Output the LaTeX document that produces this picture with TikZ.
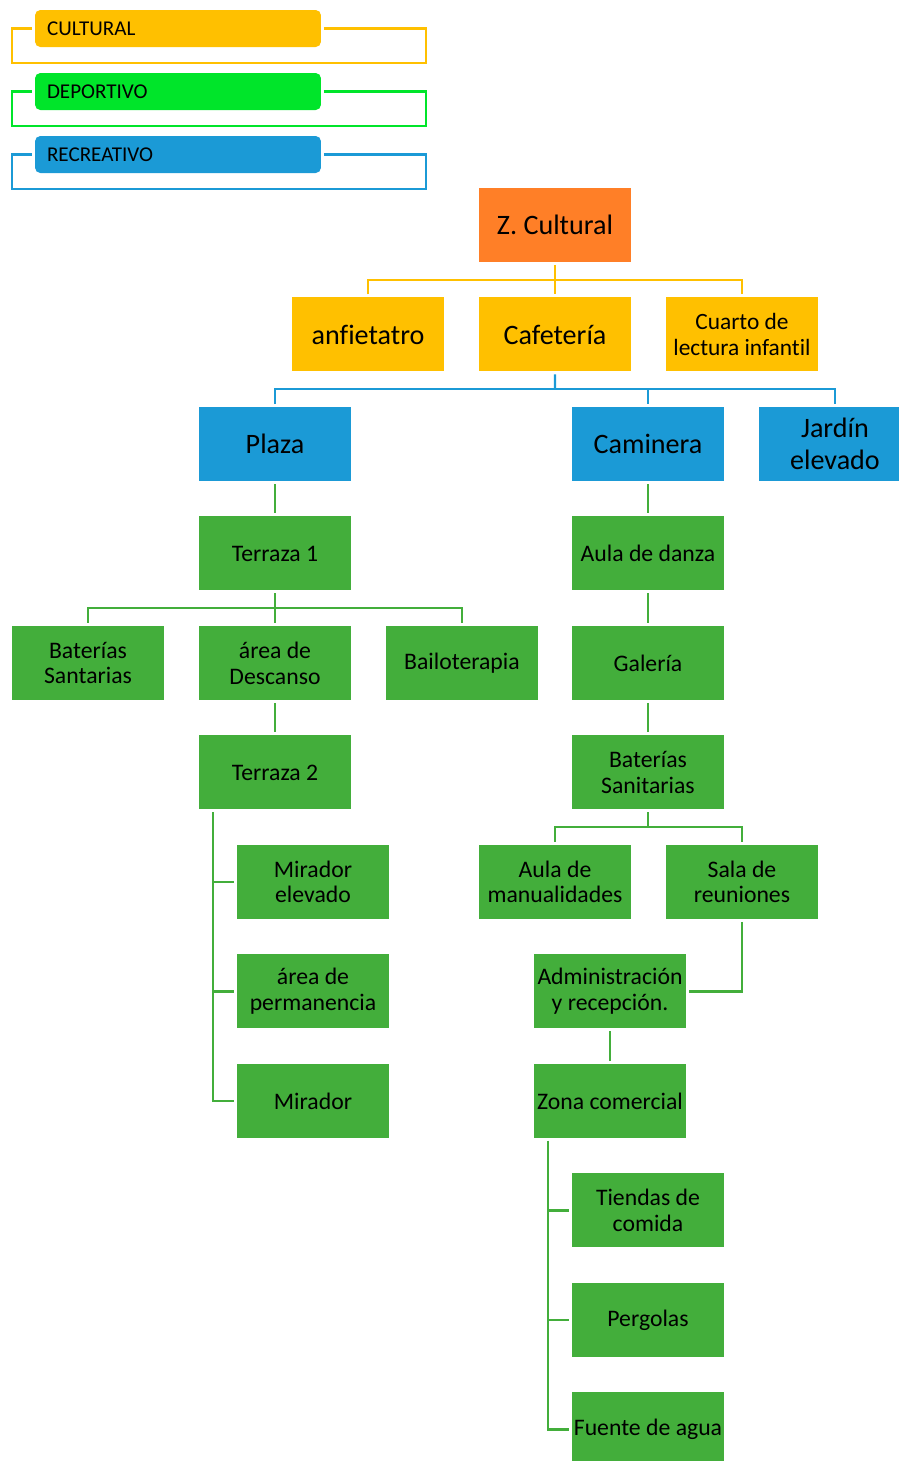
\documentclass[tikz,border=0pt]{standalone}
\usepackage{fontspec}
\setmainfont{Carlito}[Ligatures=CommonOff]
\usepackage{xcolor}
\usepackage{tikz}
\usetikzlibrary{positioning, calc}

\definecolor{zonaorange}{HTML}{FF7F27}
\definecolor{cultyellow}{HTML}{FFC000}
\definecolor{recblue}{HTML}{1B9AD6}
\definecolor{depgreen}{HTML}{00E52A}
\definecolor{areagreen}{HTML}{43AE3B}

\begin{document}
\begin{tikzpicture}[
        x=0.02cm, y=-0.02cm,
        node distance=0.59cm and 0.58cm,
        block/.style = {rectangle, minimum width=3.04cm, align=center, minimum height=1.48cm, inner xsep=0pt, inner ysep=0pt, outer sep=0.06cm},
        zone/.style = {block, fill=zonaorange, font=\fontsize{16}{18}\selectfont},
        cult/.style = {block, fill=cultyellow, font=\fontsize{16}{18}\selectfont},
        recr/.style = {block, fill=recblue, font=\fontsize{16}{18}\selectfont},
        area/.style = {block, fill=areagreen, font=\fontsize{13.5}{14.7}\selectfont},
        legend/.style = {rectangle, rounded corners=3pt, text width=5.24cm, align=left, minimum height=0.74cm, inner xsep=0.24cm, inner ysep=0pt, outer sep=0.06cm, font=\fontsize{12}{14}\selectfont},
        cultlink/.style = {draw=cultyellow, line width=1.4pt},
        reclink/.style = {draw=recblue, line width=1.4pt},
        deplink/.style = {draw=depgreen, line width=1.4pt},
        arealink/.style = {draw=areagreen, line width=1.4pt}
    ]

    \useasboundingbox (0,0) rectangle (899,1461);

    % --- LEYENDA ---
    \node[legend, fill=cultyellow] (lgcult) at (178,28.5) {CULTURAL};
    \node[legend, fill=depgreen] (lgdep) at (178,91.5) {DEPORTIVO};
    \node[legend, fill=recblue] (lgrec) at (178,154.5) {RECREATIVO};

    \draw[cultlink] (lgcult.east) -| ([xshift=2.04cm,yshift=-0.69cm]lgcult.east) -| ([xshift=-0.4cm]lgcult.west) -- (lgcult.west);
    \draw[deplink] (lgdep.east) -| ([xshift=2.04cm,yshift=-0.69cm]lgdep.east) -| ([xshift=-0.4cm]lgdep.west) -- (lgdep.west);
    \draw[reclink] (lgrec.east) -| ([xshift=2.04cm,yshift=-0.69cm]lgrec.east) -| ([xshift=-0.4cm]lgrec.west) -- (lgrec.west);

    % --- ZONA CULTURAL ---
    \node[zone] (zc) at (555,225) {Z. Cultural};
    \node[cult, below=of zc] (cafe) {Cafetería};
    \node[cult, left=of cafe] (anfi) {anfietatro};
    \node[cult, right=of cafe, font=\fontsize{13.3}{15.3}\selectfont] (cuarto) {Cuarto de\\lectura infantil};

    % --- ZONA RECREATIVA ---
    \node[recr] (plaza) at (275,444) {Plaza};
    \node[recr] (caminera) at (648,444) {Caminera};
    \node[recr, right=of caminera] (jardin) {Jardín\\elevado};

    % Rama de la plaza
    \node[area, below=of plaza] (terraza1) {Terraza 1};
    \node[area, below=of terraza1] (descanso) {área de\\Descanso};
    \node[area, left=of descanso] (banos1) {Baterías\\Santarias};
    \node[area, right=of descanso] (bailo) {Bailoterapia};
    \node[area, below=of descanso] (terraza2) {Terraza 2};
    \node[area, below=of terraza2, xshift=0.76cm] (miradorel) {Mirador\\elevado};
    \node[area, below=of miradorel] (permanencia) {área de\\permanencia};
    \node[area, below=of permanencia] (mirador) {Mirador};

    % Rama de la caminera
    \node[area, below=of caminera] (danza) {Aula de danza};
    \node[area, below=of danza] (galeria) {Galería};
    \node[area, below=of galeria] (banos2) {Baterías\\Sanitarias};
    \node[area, below=of banos2, xshift=-1.86cm] (manual) {Aula de\\manualidades};
    \node[area, right=of manual] (sala) {Sala de\\reuniones};
    \node[area, below=of manual, xshift=1.1cm] (admin) {Administración\\y recepción.};
    \node[area, below=of admin] (zona) {Zona comercial};
    \node[area, below=of zona, xshift=0.76cm] (tiendas) {Tiendas de\\comida};
    \node[area, below=of tiendas] (pergolas) {Pergolas};
    \node[area, below=of pergolas] (fuente) {Fuente de agua};

    % --- CONEXIONES ---
    \coordinate (busc) at ($(zc.south)!0.5!(cafe.north)$);
    \draw[cultlink] (zc) -- (cafe);
    \draw[cultlink] (anfi.north) |- (busc) -| (cuarto.north);

    \coordinate (busr) at ($(cafe.south)!0.5!(cafe.south |- caminera.north)$);
    \draw[reclink] (cafe.south) -- (busr);
    \draw[reclink] (plaza.north) |- (busr) -| (jardin.north);
    \draw[reclink] (busr) -| (caminera.north);

    \draw[arealink] (plaza) -- (terraza1);
    \coordinate (bust) at ($(terraza1.south)!0.5!(descanso.north)$);
    \draw[arealink] (terraza1) -- (descanso);
    \draw[arealink] (banos1.north) |- (bust) -| (bailo.north);
    \draw[arealink] (descanso) -- (terraza2);
    \coordinate (spine1) at ([xshift=0.34cm]terraza2.south west);
    \draw[arealink] (spine1) |- (mirador.west);
    \draw[arealink] (spine1) |- (miradorel.west);
    \draw[arealink] (spine1) |- (permanencia.west);

    \draw[arealink] (caminera) -- (danza);
    \draw[arealink] (danza) -- (galeria);
    \draw[arealink] (galeria) -- (banos2);
    \coordinate (busb) at ($(banos2.south)!0.5!(banos2.south |- manual.north)$);
    \draw[arealink] (banos2.south) -- (busb);
    \draw[arealink] (manual.north) |- (busb) -| (sala.north);
    \draw[arealink] (sala.south) |- (admin.east);
    \draw[arealink] (admin) -- (zona);
    \coordinate (spine2) at ([xshift=0.34cm]zona.south west);
    \draw[arealink] (spine2) |- (fuente.west);
    \draw[arealink] (spine2) |- (tiendas.west);
    \draw[arealink] (spine2) |- (pergolas.west);

\end{tikzpicture}
\end{document}
